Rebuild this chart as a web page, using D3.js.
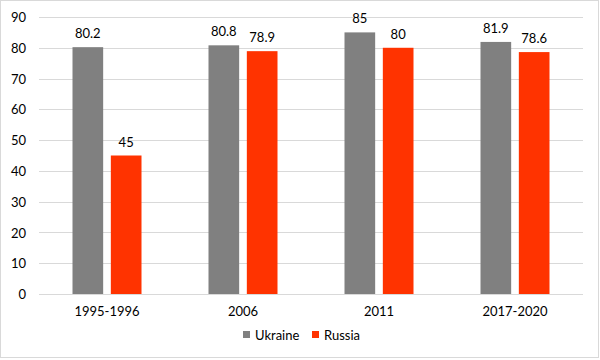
<!DOCTYPE html>
<html><head><meta charset="utf-8">
<script src="https://cdn.jsdelivr.net/npm/d3@7"></script>
<style>body{margin:0;background:#fff}svg{display:block}text{font-family:Lato,"Open Sans",sans-serif;fill:#000}</style>
</head><body><svg id="c" width="600" height="360"></svg>
<script>
const categories = ["1995-1996","2006","2011","2017-2020"];
const seriesNames = ["Ukraine","Russia"];
const ukraine = [80.2, 80.8, 85, 81.9];
const russia = [45, 78.9, 80, 78.6];
const yTicks = [0,10,20,30,40,50,60,70,80,90];
const colors = ["#808080","#FF3300"];

const svg = d3.select("#c");
svg.append("rect").attr("x",0.5).attr("y",0.5).attr("width",598).attr("height",357)
  .attr("fill","#fff").attr("stroke","#d9d9d9");

const x = d3.scaleBand().domain(categories).range([39,583]);
const y = d3.scaleLinear().domain([0,90]).range([294,17]);
const inner = d3.scaleBand().domain(seriesNames).range([-34.5,34.5]).paddingInner(0.2);

const g = svg.append("g");
g.selectAll("line.grid").data(yTicks).join("line")
  .attr("x1",39).attr("x2",583).attr("y1",d=>Math.round(y(d))+0.5).attr("y2",d=>Math.round(y(d))+0.5)
  .attr("stroke","#d9d9d9").attr("stroke-width",1);

const yAxis = d3.axisLeft(y).tickValues(yTicks).tickSize(0).tickPadding(13);
const ya = svg.append("g").attr("transform","translate(39,0)").call(yAxis);
ya.select(".domain").remove();
ya.selectAll("text").style("font-size","13px").attr("fill","#000").attr("dy","0.35em");

const xAxis = d3.axisBottom(x).tickSize(0).tickPadding(13);
const xa = svg.append("g").attr("transform","translate(0,294)").call(xAxis);
xa.select(".domain").remove();
xa.selectAll("text").style("font-size","13px").attr("fill","#000");

const data = [ukraine, russia];
seriesNames.forEach((s,i)=>{
  const vals = data[i];
  svg.selectAll("rect.s"+i).data(categories).join("rect")
    .attr("x",(c)=>x(c)+x.bandwidth()/2+inner(s))
    .attr("width",inner.bandwidth())
    .attr("y",(c,j)=>y(vals[j]))
    .attr("height",(c,j)=>y(0)-y(vals[j]))
    .attr("fill",colors[i]);
  svg.selectAll("text.l"+i).data(categories).join("text")
    .attr("x",(c)=>x(c)+x.bandwidth()/2+inner(s)+inner.bandwidth()/2)
    .attr("y",(c,j)=>y(vals[j])-9)
    .attr("text-anchor","middle").style("font-size","13px")
    .text((c,j)=>vals[j]);
});

const leg = svg.append("g");
const legX = [243, 312];
seriesNames.forEach((s,i)=>{
  leg.append("rect").attr("x",legX[i]).attr("y",331).attr("width",7).attr("height",7).attr("fill",colors[i]);
  leg.append("text").attr("x",legX[i]+12).attr("y",339.5).style("font-size","13px").text(s);
});
</script></body></html>
